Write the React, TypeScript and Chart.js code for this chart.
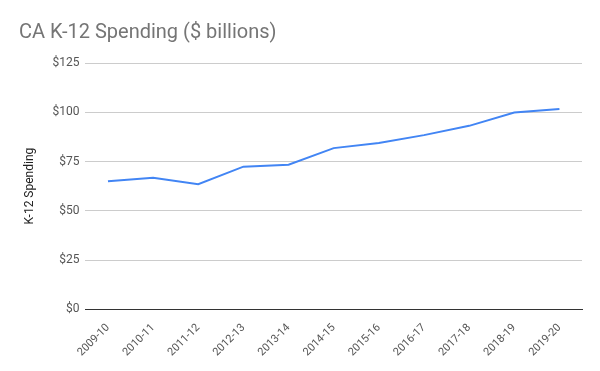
import React, { useEffect, useRef } from "react";
import { Chart, registerables } from "chart.js";

Chart.register(...registerables);

const categories = ["2009-10", "2010-11", "2011-12", "2012-13", "2013-14", "2014-15", "2015-16", "2016-17", "2017-18", "2018-19", "2019-20"];
const spending = [65, 66.8, 63.5, 72.4, 73.4, 81.8, 84.4, 88.4, 93.1, 99.9, 101.7];
const yTicks = [0, 25, 50, 75, 100, 125];

export default function App() {
  const ref = useRef<HTMLCanvasElement>(null);
  useEffect(() => {
    if (!ref.current) return;
    const chart = new Chart(ref.current, {
      type: "line",
      data: {
        labels: categories,
        datasets: [
          {
            label: "K-12 Spending",
            data: spending,
            borderColor: "#4285F4",
            backgroundColor: "#4285F4",
            borderWidth: 2,
            pointRadius: 0,
            tension: 0,
          },
        ],
      },
      options: {
        responsive: false,
        animation: false,
        layout: { padding: { left: 19, right: 18, top: 10, bottom: 8 } },
        plugins: {
          legend: { display: false },
          tooltip: { enabled: false },
          title: {
            display: true,
            text: "CA K-12 Spending ($ billions)",
            align: "start",
            color: "#757575",
            font: { family: "Roboto", size: 20, weight: "normal" },
            padding: { top: 11, bottom: 18 },
          },
        },
        scales: {
          x: {
            type: "category",
            offset: true,
            grid: { display: false },
            border: { display: true, color: "#333333", width: 1 },
            ticks: {
              color: "#555555",
              font: { family: "Roboto", size: 11 },
              maxRotation: 45,
              minRotation: 45,
              padding: 4,
            },
          },
          y: {
            min: 0,
            max: 125,
            afterBuildTicks: (axis: any) => {
              axis.ticks = yTicks.map((v) => ({ value: v }));
            },
            border: { display: false },
            grid: {
              color: "#cccccc",
              drawTicks: false,
            },
            ticks: {
              color: "#555555",
              font: { family: "Roboto", size: 12 },
              padding: 6,
              callback: (v: any) => "$" + v,
            },
            title: {
              display: true,
              text: "K-12 Spending",
              color: "#222222",
              font: { family: "Roboto", size: 12 },
              padding: { top: 4, bottom: 9 },
            },
          },
        },
      },
    });
    return () => chart.destroy();
  }, []);
  return (
    <div style={{ position: "fixed", left: 0, top: 0, width: 600, height: 371, background: "#fff" }}>
      <canvas ref={ref} width={600} height={371} style={{ display: "block" }} />
    </div>
  );
}
